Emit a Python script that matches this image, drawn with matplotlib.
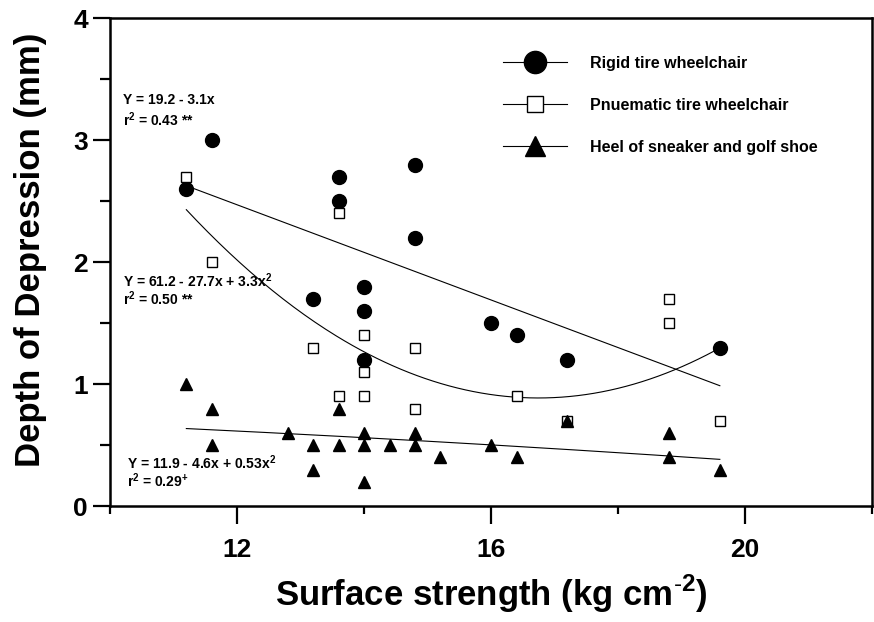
import numpy as np
import matplotlib
matplotlib.use("Agg")
import matplotlib.pyplot as plt
from matplotlib.lines import Line2D
from matplotlib.ticker import MultipleLocator

plt.rcParams['font.family'] = ['Liberation Sans', 'DejaVu Sans']
plt.rcParams['mathtext.fontset'] = 'custom'
plt.rcParams['mathtext.bf'] = 'Liberation Sans:bold'
plt.rcParams['mathtext.rm'] = 'Liberation Sans'

# data
rigid_x = [11.2, 11.6, 13.2, 13.6, 13.6, 14.0, 14.0, 14.0, 14.8, 14.8, 16.0, 16.4, 17.2, 19.6]
rigid_y = [2.6, 3.0, 1.7, 2.7, 2.5, 1.8, 1.6, 1.2, 2.8, 2.2, 1.5, 1.4, 1.2, 1.3]

pneu_x = [11.2, 11.6, 13.2, 13.6, 13.6, 14.0, 14.0, 14.0, 14.8, 14.8, 16.4, 17.2, 18.8, 18.8, 19.6]
pneu_y = [2.7, 2.0, 1.3, 2.4, 0.9, 1.4, 1.1, 0.9, 1.3, 0.8, 0.9, 0.7, 1.7, 1.5, 0.7]

heel_x = [11.2, 11.6, 11.6, 12.8, 13.2, 13.2, 13.6, 13.6, 14.0, 14.0, 14.0, 14.4,
          14.8, 14.8, 15.2, 16.0, 16.4, 17.2, 18.8, 18.8, 19.6]
heel_y = [1.0, 0.8, 0.5, 0.6, 0.5, 0.3, 0.8, 0.5, 0.6, 0.5, 0.2, 0.5,
          0.6, 0.5, 0.4, 0.5, 0.4, 0.7, 0.6, 0.4, 0.3]

# fitted curves as drawn (in plotted units)
rigid_fit = [-0.195, 4.81]
pneu_fit = [0.0502, -1.681, 14.96]
heel_fit = [-0.0006, -0.01156, 0.8417]
fit_range = (11.2, 19.6)

labels = ["Rigid tire wheelchair", "Pnuematic tire wheelchair", "Heel of sneaker and golf shoe"]

# equation text, one entry per line: (x, y, text)
eq_lines = [
    (10.2, 3.33, "Y = 19.2 - 3.1x"),
    (10.2, 3.17, "r$^{\\mathbf{2}}$ = 0.43 **"),
    (10.2, 1.85, "Y = 61.2 - 27.7x + 3.3x$^{\\mathbf{2}}$"),
    (10.2, 1.70, "r$^{\\mathbf{2}}$ = 0.50 **"),
    (10.27, 0.36, "Y = 11.9 - 4.6x + 0.53x$^{\\mathbf{2}}$"),
    (10.27, 0.21, "r$^{\\mathbf{2}}$ = 0.29$^{\\mathbf{+}}$"),
]

fig = plt.figure(figsize=(8.74, 6.22), dpi=100)
ax = fig.add_axes([0.126, 0.186, 0.872, 0.785])

xs = np.linspace(fit_range[0], fit_range[1], 200)
ax.plot(xs, np.polyval(rigid_fit, xs), color='black', lw=0.8, zorder=2)
ax.plot(xs, np.polyval(pneu_fit, xs), color='black', lw=0.8, zorder=2)
ax.plot(xs, np.polyval(heel_fit, xs), color='black', lw=0.8, zorder=2)

ax.plot(rigid_x, rigid_y, 'o', ms=10, color='black', zorder=3)
ax.plot(pneu_x, pneu_y, 's', ms=7, mfc='white', mec='black', mew=1, zorder=3)
ax.plot(heel_x, heel_y, '^', ms=9, color='black', zorder=4)

ax.set_xlim(10, 22)
ax.set_ylim(0, 4)
ax.set_xticks([12, 16, 20])
ax.xaxis.set_minor_locator(MultipleLocator(2))
ax.yaxis.set_major_locator(MultipleLocator(1))
ax.yaxis.set_minor_locator(MultipleLocator(0.5))
ax.tick_params(axis='x', which='major', length=13, width=1.6, direction='out', pad=10)
ax.tick_params(axis='x', which='minor', length=6, width=1.6, direction='out')
ax.tick_params(axis='y', which='major', length=12, width=1.6, direction='out', pad=4)
ax.tick_params(axis='y', which='minor', length=7, width=1.6, direction='out')
for lab in ax.get_xticklabels() + ax.get_yticklabels():
    lab.set_fontsize(19)
    lab.set_fontweight('bold')
for sp in ax.spines.values():
    sp.set_linewidth(1.8)

ax.set_xlabel("Surface strength (kg cm$^{\\mathbf{\\text{-}2}}$)", fontsize=25, fontweight='bold')
ax.set_ylabel("Depth of Depression (mm)", fontsize=25, fontweight='bold')
ax.xaxis.set_label_coords(0.5, -0.137)
ax.yaxis.set_label_coords(-0.083, 0.525)

for ex, ey, et in eq_lines:
    ax.text(ex, ey, et, fontsize=10, fontweight='bold', va='center')

handles = [
    Line2D([], [], color='black', lw=0.8, marker='o', ms=16),
    Line2D([], [], color='black', lw=0.8, marker='s', ms=12, mfc='white', mec='black', mew=1),
    Line2D([], [], color='black', lw=0.8, marker='^', ms=15),
]
ax.legend(handles, labels, loc='upper left', bbox_to_anchor=(0.497, 0.952), frameon=False,
          prop={'weight': 'bold', 'size': 11.5},
          handlelength=4.0, handletextpad=1.44, labelspacing=1.68)

fig.savefig("out.png", dpi=100)
